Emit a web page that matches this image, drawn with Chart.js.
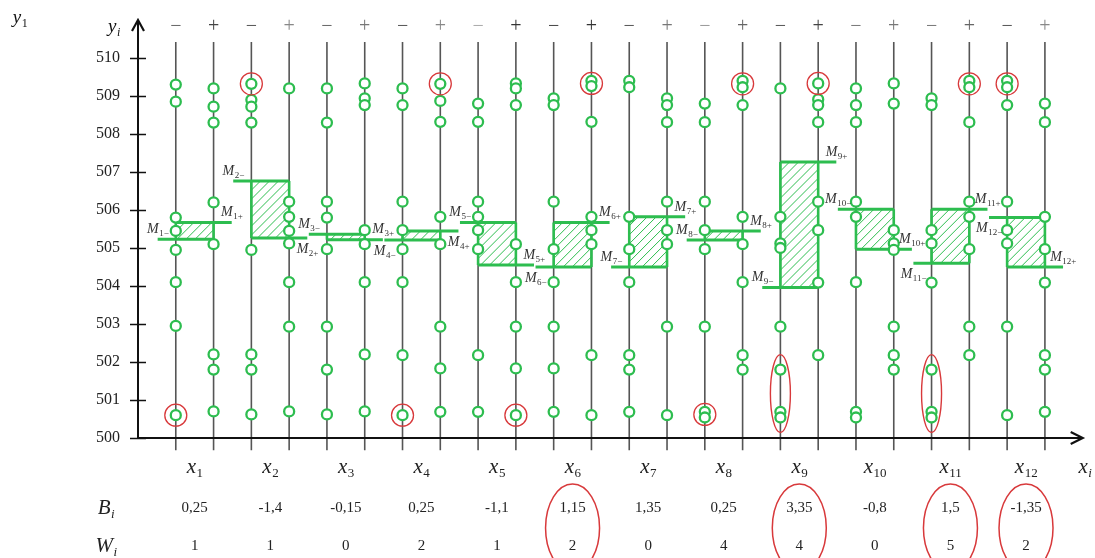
<!DOCTYPE html>
<html>
<head>
<meta charset="utf-8">
<script src="https://cdn.jsdelivr.net/npm/chart.js@4.4.1/dist/chart.umd.min.js"></script>
<style>
  html, body { margin: 0; padding: 0; background: #fff; }
  canvas { display: block; }
</style>
</head>
<body>
<canvas id="chart" width="1095" height="558"></canvas>
<script>
"use strict";

// x_i columns, each has a "-" and a "+" sample line
const CATEGORIES = ["1", "2", "3", "4", "5", "6", "7", "8", "9", "10", "11", "12"];
const Y_TICKS = [500, 501, 502, 503, 504, 505, 506, 507, 508, 509, 510];

const B_VALUES = ["0,25", "-1,4", "-0,15", "0,25", "-1,1", "1,15", "1,35", "0,25", "3,35", "-0,8", "1,5", "-1,35"];
const W_VALUES = ["1", "1", "0", "2", "1", "2", "0", "4", "4", "0", "5", "2"];
const CIRCLED_COLUMNS = [6, 9, 11, 12];

// sample values on the "-" line of each x_i
const MINUS_SAMPLES = [
  [509.3, 508.85, 505.8, 505.45, 504.95, 504.1, 502.95, 500.6],
  [509.32, 508.9, 508.72, 508.3, 504.95, 502.2, 501.8, 500.62],
  [509.2, 508.3, 506.22, 505.8, 504.97, 502.93, 501.8, 500.62],
  [509.2, 508.76, 506.22, 505.47, 504.97, 504.1, 502.18, 500.6],
  [508.8, 508.32, 506.22, 505.82, 505.47, 504.97, 502.18, 500.69],
  [508.94, 508.76, 506.22, 504.97, 504.1, 502.93, 501.83, 500.69],
  [509.4, 509.23, 505.82, 504.97, 504.1, 502.18, 501.8, 500.69],
  [508.8, 508.31, 506.22, 505.47, 504.97, 502.93, 500.69, 500.54],
  [509.2, 505.82, 505.12, 505.0, 502.93, 501.8, 500.69, 500.54],
  [509.2, 508.76, 508.31, 506.22, 505.82, 504.1, 500.69, 500.54],
  [508.94, 508.76, 505.47, 505.12, 504.09, 501.8, 500.69, 500.54],
  [509.4, 509.23, 508.76, 506.22, 505.47, 505.12, 502.93, 500.6],
];

// sample values on the "+" line of each x_i
const PLUS_SAMPLES = [
  [509.2, 508.72, 508.3, 506.2, 505.1, 502.2, 501.8, 500.7],
  [509.2, 506.22, 505.82, 505.45, 505.12, 504.1, 502.93, 500.7],
  [509.33, 508.94, 508.76, 505.47, 505.1, 504.1, 502.2, 500.7],
  [509.32, 508.87, 508.32, 505.82, 505.1, 502.93, 501.83, 500.69],
  [509.33, 509.2, 508.76, 505.1, 504.1, 502.93, 501.83, 500.6],
  [509.4, 509.26, 508.32, 505.82, 505.47, 505.1, 502.18, 500.6],
  [508.94, 508.76, 508.31, 506.22, 505.47, 505.1, 502.93, 500.6],
  [509.4, 509.23, 508.76, 505.82, 505.1, 504.1, 502.18, 501.8],
  [509.33, 508.91, 508.76, 508.31, 506.22, 505.47, 504.09, 502.18],
  [509.33, 508.8, 505.47, 505.12, 504.95, 502.93, 502.18, 501.8],
  [509.4, 509.23, 508.31, 506.22, 505.82, 504.97, 502.93, 502.18],
  [508.8, 508.31, 505.82, 504.97, 504.09, 502.18, 501.8, 500.69],
];

// mean levels M_i- and M_i+
const M_MINUS = [505.23, 506.76, 505.36, 505.21, 505.67, 504.5, 504.5, 505.21, 503.96, 506.02, 504.6, 505.8];
const M_PLUS = [505.67, 505.26, 505.22, 505.45, 504.55, 505.67, 505.82, 505.45, 507.26, 504.97, 506.02, 504.5];

// red-circled samples
const MARKED_MINUS = [500.6, 509.32, null, 500.6, null, null, null, 500.62, null, null, null, 509.32];
const MARKED_PLUS = [null, null, null, 509.32, 500.6, 509.33, null, 509.32, 509.33, null, 509.32, null];
// red ellipses spanning a range on the "-" line
const RINGED_MINUS = [null, null, null, null, null, null, null, null, [500.54, 501.8], null, [500.54, 501.8], null];

// where the M labels sit (false = above the line, true = below)
const LABEL_BELOW_MINUS = [false, false, false, true, false, true, false, false, false, false, true, true];
const LABEL_BELOW_PLUS = [false, true, false, true, false, false, false, false, false, false, false, false];
const SIGN_GRAY = ["#666", "#444", "#555", "#888", "#666", "#777", "#555", "#888", "#aaa", "#333", "#444", "#333",
  "#555", "#777", "#999", "#666", "#555", "#444", "#777", "#777", "#777", "#666", "#555", "#888"];

const GREEN = "#2dbd4f";
const RED = "#d8393b";
const SERIF = '"Liberation Serif", "DejaVu Serif", serif';
const EXT = 0.48; // how far M lines reach past the column

const posMinus = (i) => 2 * i;
const posPlus = (i) => 2 * i + 1;

function stemData() {
  const out = [];
  for (let k = 0; k < CATEGORIES.length * 2; k++) {
    out.push({ x: k, y: 499.68 }, { x: k, y: 510.42 }, { x: k, y: null });
  }
  return out;
}

function meanLineData() {
  const out = [];
  CATEGORIES.forEach((_, i) => {
    out.push({ x: posMinus(i) - EXT, y: M_MINUS[i] }, { x: posPlus(i), y: M_MINUS[i] }, { x: posPlus(i), y: null });
    out.push({ x: posMinus(i), y: M_PLUS[i] }, { x: posPlus(i) + EXT, y: M_PLUS[i] }, { x: posPlus(i) + EXT, y: null });
  });
  return out;
}

function sampleData() {
  const out = [];
  CATEGORIES.forEach((_, i) => {
    for (const v of MINUS_SAMPLES[i]) out.push({ x: posMinus(i), y: v });
    for (const v of PLUS_SAMPLES[i]) out.push({ x: posPlus(i), y: v });
  });
  return out;
}

function markedData() {
  const out = [];
  CATEGORIES.forEach((_, i) => {
    if (MARKED_MINUS[i] !== null) out.push({ x: posMinus(i), y: MARKED_MINUS[i] });
    if (MARKED_PLUS[i] !== null) out.push({ x: posPlus(i), y: MARKED_PLUS[i] });
  });
  return out;
}

function subText(ctx, base, sub, cx, cy, size, subSize, color, italicSub) {
  ctx.fillStyle = color;
  ctx.textBaseline = "middle";
  ctx.textAlign = "left";
  ctx.font = `italic ${size}px ${SERIF}`;
  const w1 = ctx.measureText(base).width;
  const subFont = `${italicSub ? "italic " : ""}${subSize}px ${SERIF}`;
  ctx.font = subFont;
  const w2 = ctx.measureText(sub).width;
  const left = cx - (w1 + w2) / 2;
  ctx.font = `italic ${size}px ${SERIF}`;
  ctx.fillText(base, left, cy);
  ctx.font = subFont;
  ctx.fillText(sub, left + w1 + 0.5, cy + size * 0.32);
}

function drawBoxes(chart) {
  const { ctx } = chart;
  const xs = chart.scales.x;
  const ys = chart.scales.y;
  ctx.save();
  CATEGORIES.forEach((_, i) => {
    const x0 = xs.getPixelForValue(posMinus(i));
    const x1 = xs.getPixelForValue(posPlus(i));
    const ya = ys.getPixelForValue(M_MINUS[i]);
    const yb = ys.getPixelForValue(M_PLUS[i]);
    const top = Math.min(ya, yb);
    const bottom = Math.max(ya, yb);
    const h = bottom - top;
    ctx.save();
    ctx.beginPath();
    ctx.rect(x0, top, x1 - x0, h);
    ctx.clip();
    ctx.strokeStyle = GREEN;
    ctx.lineWidth = 1;
    ctx.beginPath();
    for (let d = -h; d < x1 - x0 + h; d += 9) {
      ctx.moveTo(x0 + d, bottom);
      ctx.lineTo(x0 + d + h, top);
    }
    ctx.stroke();
    ctx.restore();
    ctx.strokeStyle = GREEN;
    ctx.lineWidth = 2.6;
    ctx.beginPath();
    ctx.moveTo(x0, top);
    ctx.lineTo(x0, bottom);
    ctx.moveTo(x1, top);
    ctx.lineTo(x1, bottom);
    ctx.stroke();
  });
  ctx.restore();
}

function drawAxes(chart) {
  const { ctx, chartArea } = chart;
  const ys = chart.scales.y;
  const x0 = chartArea.left;
  const y0 = ys.getPixelForValue(500);
  ctx.save();
  ctx.strokeStyle = "#111";
  ctx.lineWidth = 2;
  ctx.beginPath();
  ctx.moveTo(x0, y0 + 1);
  ctx.lineTo(x0, chartArea.top + 1);
  ctx.moveTo(x0 - 1, y0);
  ctx.lineTo(chartArea.right - 1, y0);
  ctx.stroke();
  // arrow heads
  ctx.lineWidth = 2.2;
  ctx.beginPath();
  ctx.moveTo(x0 - 6, chartArea.top + 11);
  ctx.lineTo(x0, chartArea.top);
  ctx.lineTo(x0 + 6, chartArea.top + 11);
  ctx.moveTo(chartArea.right - 12, y0 - 6);
  ctx.lineTo(chartArea.right, y0);
  ctx.lineTo(chartArea.right - 12, y0 + 6);
  ctx.stroke();
  // y ticks crossing the axis
  ctx.lineWidth = 1.5;
  ctx.beginPath();
  for (const t of Y_TICKS) {
    const py = Math.round(ys.getPixelForValue(t)) + 0.5;
    ctx.moveTo(x0 - 8, py);
    ctx.lineTo(x0 + 8, py);
  }
  ctx.stroke();
  ctx.restore();
}

function drawEllipses(chart) {
  const { ctx } = chart;
  const xs = chart.scales.x;
  const ys = chart.scales.y;
  ctx.save();
  ctx.strokeStyle = RED;
  ctx.lineWidth = 1.4;
  CATEGORIES.forEach((_, i) => {
    const r = RINGED_MINUS[i];
    if (!r) return;
    const cx = xs.getPixelForValue(posMinus(i));
    const yLo = ys.getPixelForValue(r[0]);
    const yHi = ys.getPixelForValue(r[1]);
    ctx.beginPath();
    ctx.ellipse(cx, (yLo + yHi) / 2, 10, (yLo - yHi) / 2 + 15, 0, 0, Math.PI * 2);
    ctx.stroke();
  });
  ctx.restore();
}

function drawTexts(chart) {
  const { ctx, chartArea } = chart;
  const xs = chart.scales.x;
  const ys = chart.scales.y;
  ctx.save();

  // y tick labels
  ctx.fillStyle = "#222";
  ctx.font = `16px ${SERIF}`;
  ctx.textAlign = "right";
  ctx.textBaseline = "middle";
  for (const t of Y_TICKS) ctx.fillText(String(t), chartArea.left - 18, ys.getPixelForValue(t));

  subText(ctx, "y", "i", chartArea.left - 24, chartArea.top + 7, 19, 12, "#111", true);
  subText(ctx, "y", "1", 20, 18, 19, 12, "#111", false);

  // signs above each sample line
  ctx.font = `20px ${SERIF}`;
  ctx.textAlign = "center";
  ctx.textBaseline = "middle";
  for (let k = 0; k < CATEGORIES.length * 2; k++) {
    ctx.fillStyle = SIGN_GRAY[k];
    ctx.fillText(k % 2 === 0 ? "\u2212" : "+", xs.getPixelForValue(k), 27);
  }

  // M labels
  CATEGORIES.forEach((c, i) => {
    const lx = xs.getPixelForValue(posMinus(i) - EXT);
    const ly = ys.getPixelForValue(M_MINUS[i]) + (LABEL_BELOW_MINUS[i] ? 11 : -10);
    subText(ctx, "M", c + "\u2212", lx, ly, 14, 9, "#333", false);
    const rx = xs.getPixelForValue(posPlus(i) + EXT);
    const ry = ys.getPixelForValue(M_PLUS[i]) + (LABEL_BELOW_PLUS[i] ? 11 : -10);
    subText(ctx, "M", c + "+", rx, ry, 14, 9, "#333", false);
  });

  // table under the axis
  const rowX = 467, rowB = 508, rowW = 546;
  CATEGORIES.forEach((c, i) => {
    const cx = (xs.getPixelForValue(posMinus(i)) + xs.getPixelForValue(posPlus(i))) / 2;
    subText(ctx, "x", c, cx, rowX, 21, 13, "#222", false);
    ctx.fillStyle = "#222";
    ctx.font = `15px ${SERIF}`;
    ctx.textAlign = "center";
    ctx.textBaseline = "middle";
    ctx.fillText(B_VALUES[i], cx, rowB);
    ctx.fillText(W_VALUES[i], cx, rowW);
    if (CIRCLED_COLUMNS.includes(i + 1)) {
      ctx.strokeStyle = RED;
      ctx.lineWidth = 1.5;
      ctx.beginPath();
      ctx.ellipse(cx, 528, 27, 44, 0, 0, Math.PI * 2);
      ctx.stroke();
    }
  });
  subText(ctx, "x", "i", 1085, rowX, 21, 13, "#222", true);
  subText(ctx, "B", "i", 106, rowB, 21, 13, "#222", true);
  subText(ctx, "W", "i", 106, rowW, 21, 13, "#222", true);
  ctx.restore();
}

const overlay = {
  id: "overlay",
  afterDatasetDraw(chart, args) {
    if (args.index === 0) drawBoxes(chart);
  },
  afterDatasetsDraw(chart) {
    drawAxes(chart);
    drawEllipses(chart);
  },
  afterDraw(chart) {
    drawTexts(chart);
  },
};

new Chart(document.getElementById("chart"), {
  type: "scatter",
  data: {
    datasets: [
      {
        label: "stems",
        type: "line",
        data: stemData(),
        borderColor: "#555",
        borderWidth: 1.6,
        pointRadius: 0,
        spanGaps: false,
        clip: false,
        order: 4,
      },
      {
        label: "means",
        type: "line",
        data: meanLineData(),
        borderColor: GREEN,
        borderWidth: 3,
        pointRadius: 0,
        spanGaps: false,
        order: 3,
      },
      {
        label: "samples",
        data: sampleData(),
        pointRadius: 5,
        pointBorderWidth: 2.3,
        borderColor: GREEN,
        backgroundColor: "#fff",
        order: 2,
      },
      {
        label: "marked",
        data: markedData(),
        pointRadius: 11,
        pointBorderWidth: 1.3,
        borderColor: RED,
        backgroundColor: "rgba(0,0,0,0)",
        order: 1,
      },
    ],
  },
  options: {
    responsive: false,
    animation: false,
    layout: { padding: { left: 138, right: 5, top: 20, bottom: 120 } },
    plugins: { legend: { display: false }, tooltip: { enabled: false } },
    scales: {
      x: { type: "linear", min: -1, max: 24, display: false },
      y: { type: "linear", min: 500, max: 511, display: false },
    },
  },
  plugins: [overlay],
});
</script>
</body>
</html>
